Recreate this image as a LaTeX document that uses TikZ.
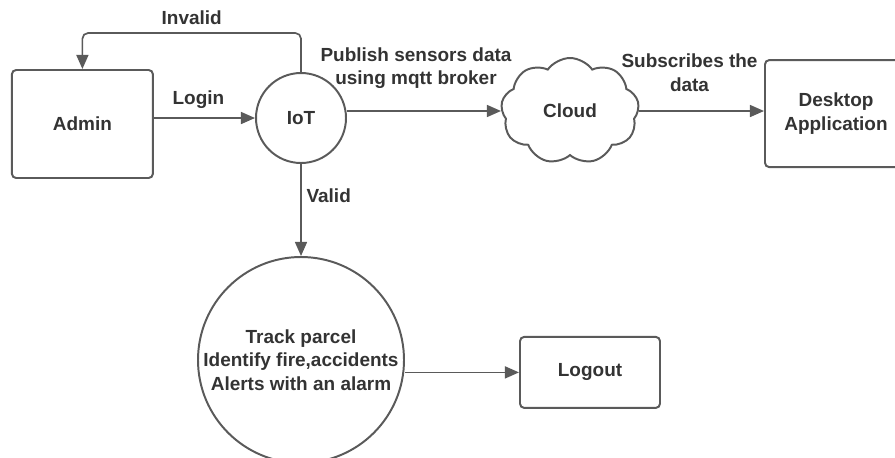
\documentclass[tikz,border=0pt]{standalone}
\usepackage{fontspec}
\setmainfont{Liberation Sans}
\usetikzlibrary{arrows.meta,positioning,shapes.symbols}
\definecolor{linecol}{RGB}{90,90,90}
\definecolor{textcol}{RGB}{51,51,51}

\begin{document}
\begin{tikzpicture}[>={Triangle[length=10pt,width=8.5pt]},
  txt/.style={text=textcol,font=\fontsize{13.5}{16.7}\selectfont\bfseries,align=center},
  box/.style={txt,draw=linecol,line width=1.4pt,rounded corners=3pt},
  circ/.style={txt,draw=linecol,line width=1.4pt,circle,inner sep=0pt},
  cloudnode/.style={txt,draw=linecol,line width=1.4pt,cloud,cloud puffs=9,cloud puff arc=110,aspect=1.3,inner sep=0pt},
  arr/.style={->,draw=linecol,line width=1.2pt},
  lbl/.style={txt}]
\useasboundingbox (0,0) rectangle (22.375,-11.425);

\node[box,minimum width=3.525cm,minimum height=2.7cm] (Admin) at (2.06,-3.1) {Admin};
\node[circ,minimum size=2.25cm] (IoT) at (7.525,-2.95) {IoT};
\node[cloudnode,minimum width=3.45cm,minimum height=2.65cm] (Cloud) at (14.25,-2.775) {Cloud};
\node[box,minimum width=3.55cm,minimum height=2.675cm] (Desk) at (20.9,-2.84) {Desktop\\Application};
\node[circ,minimum size=5.15cm] (Track) at (7.525,-9.0) {Track parcel\\Identify fire,accidents\\Alerts with an alarm};
\node[box,minimum width=3.5cm,minimum height=1.775cm] (Logout) at (14.75,-9.31) {Logout};

\draw[arr] (Admin.east |- IoT.west) -- node[lbl,above=3pt,xshift=-0.15cm] {Login} (IoT.west);
\draw[arr,rounded corners=4pt] (IoT.north) -- ++(0,0.975) -| node[lbl,above=2pt,pos=0.25] {Invalid} (Admin.north);
\draw[arr] (IoT.east |- Cloud.west) -- node[lbl,above=12pt,xshift=-0.2cm] {Publish sensors data\\using mqtt broker} (Cloud.west);
\draw[arr] (Cloud.east) -- node[lbl,above=10pt,xshift=-0.3cm] {Subscribes the\\data} (Cloud.east -| Desk.west);
\draw[arr] (IoT.south) -- node[lbl,right,pos=0.35] {Valid} (Track.north);
\draw[arr] (Track.east |- Logout.west) -- (Logout.west);
\end{tikzpicture}
\end{document}
